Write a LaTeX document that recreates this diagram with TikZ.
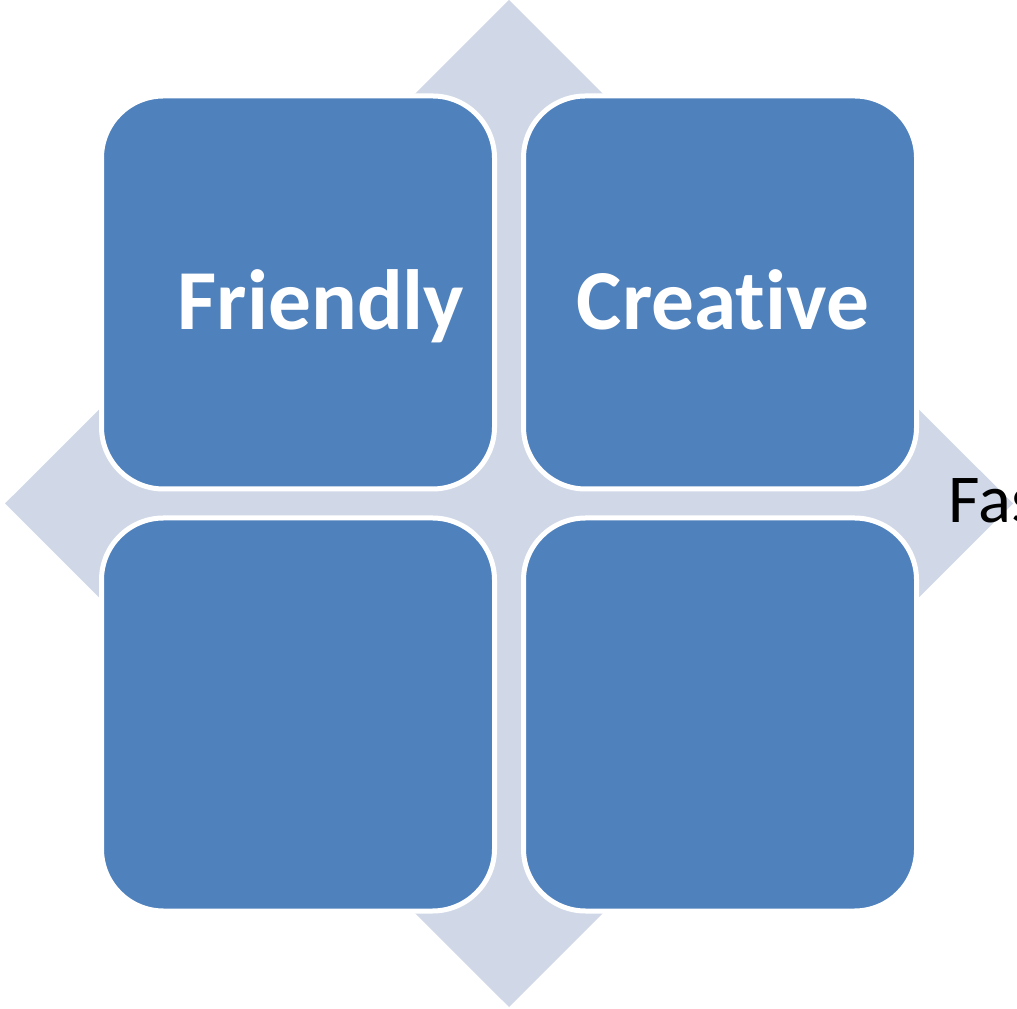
\documentclass[tikz,border=0pt]{standalone}
\usepackage{fontspec}
\setmainfont{Carlito}[Ligatures=NoCommon]
\usepackage{tikz}
\usetikzlibrary{positioning}

\definecolor{tileblue}{HTML}{4F81BD}
\definecolor{diamondgray}{HTML}{D0D8E8}

\begin{document}
\begin{tikzpicture}
    [tile/.style={rectangle,draw=white,fill=tileblue,line width=0.05cm,
    rounded corners=0.62cm,inner sep=0pt,minimum size=3.93cm},
    tilelabel/.style={text=white,font=\bfseries\fontsize{24.3}{29}\selectfont,
    anchor=base,inner sep=0pt},
    sidelabel/.style={text=black,font=\fontsize{19.5}{23}\selectfont,
    anchor=base west,inner sep=0pt},
    node distance=0.24cm]
    \useasboundingbox (0,0) rectangle (10.17,10.08);
    \clip (0,0) rectangle (10.17,10.08);
    \fill[diamondgray] (5.09,10.08) -- (10.13,5.045) -- (5.09,0.01) -- (0.05,5.045) -- cycle;
    \node[tile] (friendly) at (2.98,7.155) {};
    \node[tile] (creative) [right=of friendly] {};
    \node[tile] (lowerleft) [below=of friendly] {};
    \node[tile] (lowerright) [right=of lowerleft] {};
    \node[tilelabel] (friendly text) at (3.21,6.78) {Friendly};
    \node[tilelabel] (creative text) at (7.23,6.78) {Creative};
    \node[sidelabel] (fast text) at (9.48,4.85) {Fast};
\end{tikzpicture}
\end{document}
